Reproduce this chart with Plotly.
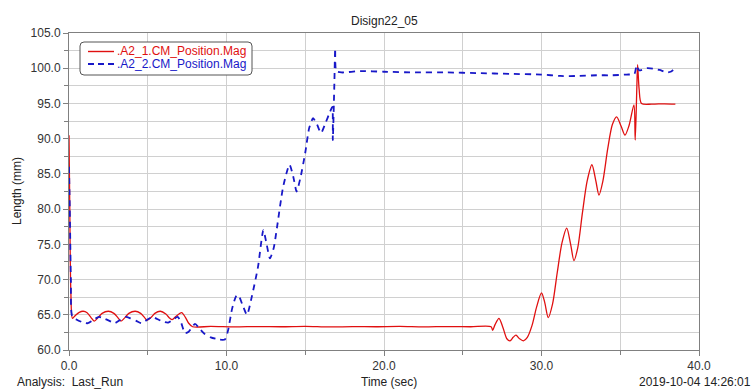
import plotly.graph_objects as go

# ---- data -------------------------------------------------------------
red_t = [0.0, 0.05, 0.12, 0.22, 0.4, 0.65, 0.9, 1.15, 1.4, 1.6, 1.85, 2.1, 2.5, 2.85,
         3.1, 3.3, 3.55, 3.8, 4.2, 4.55, 4.8, 4.95, 5.2, 5.45, 5.8, 6.15, 6.4, 6.55,
         6.8, 7.15, 7.4, 7.6, 7.85, 9.0, 10.5, 12.0, 13.5, 15.0, 16.5, 18.0, 19.5,
         21.0, 22.5, 24.0, 25.5, 26.8, 26.9, 27.05, 27.3, 27.55, 27.8, 28.0, 28.2,
         28.38, 28.6, 28.85, 29.1, 29.4, 29.7, 30.0, 30.2, 30.43, 30.7, 31.0, 31.3,
         31.6, 31.85, 32.06, 32.3, 32.6, 32.9, 33.2, 33.45, 33.65, 33.9, 34.2, 34.5,
         34.77, 35.05, 35.3, 35.55, 35.87, 35.95, 36.05, 36.1, 36.2, 36.35, 37.0,
         37.8, 38.5]
red_v = [90.5, 80.0, 68.0, 64.5, 64.9, 65.35, 65.5, 65.3, 64.6, 64.1, 64.6, 65.2, 65.5, 65.2,
         64.6, 64.1, 64.6, 65.2, 65.5, 65.2, 64.6, 64.2, 64.6, 65.2, 65.5, 65.1, 64.5, 64.3,
         64.8, 65.3, 64.6, 63.8, 63.3, 63.35, 63.28, 63.33, 63.3, 63.36, 63.27, 63.32, 63.3,
         63.35, 63.28, 63.33, 63.3, 63.3, 62.8, 63.6, 64.5, 63.2, 61.6, 61.3, 61.8,
         62.1, 61.6, 61.3, 61.8, 63.5, 66.2, 68.1, 66.8, 64.6, 66.5, 71.0, 75.2,
         77.3, 75.0, 72.7, 74.5, 79.5, 84.0, 86.3, 84.0, 82.0, 84.0, 88.5, 92.0,
         93.1, 91.8, 90.5, 91.8, 94.8, 89.8, 97.0, 100.5, 97.0, 95.0, 94.9,
         94.95, 94.9]

blue_t = [0.0, 0.05, 0.12, 0.2, 0.5, 0.9, 1.2, 1.5, 1.9, 2.2, 2.6, 2.9, 3.2, 3.6, 3.9,
          4.3, 4.6, 4.9, 5.3, 5.6, 6.0, 6.3, 6.6, 6.9, 7.1, 7.37, 7.6, 8.0, 8.3, 8.6,
          9.0, 9.5, 9.9, 10.1, 10.35, 10.6, 10.75, 11.0, 11.3, 11.6, 12.0, 12.34,
          12.55, 12.76, 13.0, 13.2, 13.6, 14.0, 14.25, 14.45, 14.7, 15.0, 15.25,
          15.5, 15.75, 16.0, 16.3, 16.57, 16.72, 16.75, 16.85, 16.9, 16.97, 17.3,
          18.5, 20.0, 22.0, 24.0, 26.0, 28.0, 30.0, 31.2, 32.4, 33.5, 34.5, 35.4,
          35.9, 36.04, 36.2, 36.7, 37.2, 37.5, 37.95, 38.2, 38.36]
blue_v = [86.0, 80.0, 70.0, 64.8, 64.3, 63.9, 63.8, 64.2, 64.7, 64.5, 64.1, 63.8, 64.2, 64.7, 64.5,
          64.1, 63.8, 64.2, 64.7, 64.4, 64.0, 63.9, 64.3, 64.7, 64.0, 62.4, 62.6, 63.7, 63.0, 62.3,
          61.8, 61.5, 61.5, 62.8, 65.8, 67.6, 67.8, 66.5, 65.0, 67.5, 71.8, 77.0,
          75.0, 73.0, 74.5, 77.3, 83.2, 86.3, 84.5, 82.5, 84.5, 88.0, 91.5,
          92.9, 92.0, 90.8, 92.3, 93.8, 94.5, 89.8, 98.0, 102.8, 99.6, 99.4,
          99.6, 99.5, 99.4, 99.4, 99.3, 99.2, 99.1, 98.9, 98.9, 99.0, 99.0, 99.1,
          99.2, 100.4, 99.7, 100.0, 99.9, 99.75, 99.4, 99.5, 99.75]

red_name = ".A2_1.CM_Position.Mag"
blue_name = ".A2_2.CM_Position.Mag"

RED = "#e01010"
BLUE = "#1818c8"
FONT = "Liberation Sans, Arial, sans-serif"
GRID = "#d0d0d0"

# plot-area geometry (pixels) used for the hand-drawn legend and labels
W, H = 754, 389
L, R, T, B = 69, 55, 33, 39
PW, PH = W - L - R, H - T - B


def px(x):
    return (x - L) / PW


def py(y):
    return 1 - (y - T) / PH


fig = go.Figure()
fig.add_trace(go.Scatter(x=red_t, y=red_v, mode="lines", name=red_name,
                         line=dict(color=RED, width=1.3, shape="spline", smoothing=0.8)))
fig.add_trace(go.Scatter(x=blue_t, y=blue_v, mode="lines", name=blue_name,
                         line=dict(color=BLUE, width=1.8, dash="6px,5px",
                                   shape="spline", smoothing=0.6)))

axis_common = dict(showline=True, linecolor="#808080", linewidth=1, mirror=True,
                   showgrid=True, gridcolor=GRID, gridwidth=1, zeroline=False,
                   ticks="outside", ticklen=5, tickcolor="#808080",
                   tickfont=dict(family=FONT, size=12, color="#333333"),
                   tickformat=".1f")

fig.update_xaxes(range=[0, 40], dtick=10, tick0=0,
                 minor=dict(dtick=5, showgrid=True, gridcolor=GRID,
                            ticks="outside", ticklen=4, tickcolor="#808080"),
                 **axis_common)
fig.update_yaxes(range=[60, 105], dtick=5, tick0=60,
                 minor=dict(dtick=2.5, showgrid=True, gridcolor=GRID,
                            ticks="outside", ticklen=4, tickcolor="#808080"),
                 **axis_common)

# legend box with rounded corners
x0, x1, y0, y1, r = 80, 252, 42, 75, 4
path = (f"M {px(x0 + r)},{py(y0)} L {px(x1 - r)},{py(y0)} "
        f"Q {px(x1)},{py(y0)} {px(x1)},{py(y0 + r)} "
        f"L {px(x1)},{py(y1 - r)} Q {px(x1)},{py(y1)} {px(x1 - r)},{py(y1)} "
        f"L {px(x0 + r)},{py(y1)} Q {px(x0)},{py(y1)} {px(x0)},{py(y1 - r)} "
        f"L {px(x0)},{py(y0 + r)} Q {px(x0)},{py(y0)} {px(x0 + r)},{py(y0)} Z")
shapes = [
    dict(type="path", path=path, xref="paper", yref="paper",
         line=dict(color="#555555", width=1), fillcolor="white"),
    dict(type="line", xref="paper", yref="paper", x0=px(88), x1=px(114),
         y0=py(51.5), y1=py(51.5), line=dict(color=RED, width=1.4)),
    dict(type="line", xref="paper", yref="paper", x0=px(88), x1=px(114),
         y0=py(64), y1=py(64), line=dict(color=BLUE, width=1.8, dash="6px,4px")),
]

annotations = [
    dict(text=red_name, x=px(115), y=py(51.5), xanchor="left", yanchor="middle",
         font=dict(family=FONT, size=12, color=RED)),
    dict(text=blue_name, x=px(115), y=py(64), xanchor="left", yanchor="middle",
         font=dict(family=FONT, size=12, color=BLUE)),
    dict(text="Disign22_05", x=px(384), y=py(21), xanchor="center", yanchor="middle",
         font=dict(family=FONT, size=12, color="#222222")),
    dict(text="Length (mm)", x=px(17), y=py(191), xanchor="center", yanchor="middle",
         textangle=-90, font=dict(family=FONT, size=12, color="#222222")),
    dict(text="Time (sec)", x=px(389), y=py(382), xanchor="center", yanchor="middle",
         font=dict(family=FONT, size=12, color="#222222")),
    dict(text="Analysis:  Last_Run", x=px(15), y=py(382), xanchor="left", yanchor="middle",
         font=dict(family=FONT, size=12, color="#222222")),
    dict(text="2019-10-04 14:26:01", x=px(753), y=py(382), xanchor="right",
         yanchor="middle", font=dict(family=FONT, size=12, color="#222222")),
]
for a in annotations:
    a.update(xref="paper", yref="paper", showarrow=False)

fig.update_layout(
    width=W, height=H,
    margin=dict(l=L, r=R, t=T, b=B),
    paper_bgcolor="white", plot_bgcolor="white",
    showlegend=False,
    shapes=shapes,
    annotations=annotations,
)

fig.write_html("out.html")
